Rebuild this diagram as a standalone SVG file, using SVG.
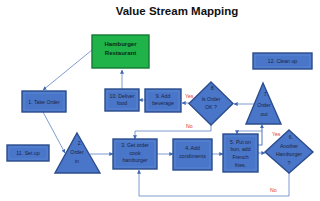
<svg xmlns="http://www.w3.org/2000/svg" width="320" height="201" viewBox="0 0 320 201">
<defs>
<style>
.title{font-family:"Liberation Sans",Arial,sans-serif;font-weight:bold;font-size:11.5px;fill:#111}
.b{fill:#4a76c9;stroke:#2c4c8c;stroke-width:1.4}
.bi{fill:none;stroke:#6a92dc;stroke-width:0.5}
.g{fill:#1fb34a;stroke:#137a32;stroke-width:1.4}
.t{font-family:"Liberation Sans",Arial,sans-serif;font-size:5.2px;fill:#1b2440;text-anchor:middle}
.tg{font-family:"Liberation Sans",Arial,sans-serif;font-size:6px;font-weight:bold;fill:#0d2a14;text-anchor:middle}
.r{font-family:"Liberation Sans",Arial,sans-serif;font-size:5.2px;fill:#e03a3a}
.c{fill:none;stroke:#5f82c4;stroke-width:0.8}
</style>
<marker id="a" viewBox="0 0 6 6" refX="5.5" refY="3" markerWidth="4" markerHeight="4" markerUnits="userSpaceOnUse" orient="auto">
<path d="M0,0 L6,3 L0,6 Z" fill="#3f67b5"/>
</marker>
</defs>
<rect width="320" height="201" fill="#fff"/>
<text class="title" x="177" y="15" text-anchor="middle">Value Stream Mapping</text>

<g id="connectors">
<path class="c" d="M92,50 L43,90" marker-end="url(#a)"/>
<path class="c" d="M122,89 V70" marker-end="url(#a)"/>
<path class="c" d="M145,100 H139" marker-end="url(#a)"/>
<path class="c" d="M189,103 H182" marker-end="url(#a)"/>
<path class="c" d="M255,104 H234" marker-end="url(#a)"/>
<path class="c" d="M211,125 V131 H135 V139" marker-end="url(#a)"/>
<path class="c" d="M43,112 L65,153" marker-end="url(#a)"/>
<path class="c" d="M90,154 H113" marker-end="url(#a)"/>
<path class="c" d="M157,154 H173" marker-end="url(#a)"/>
<path class="c" d="M212,154 H223" marker-end="url(#a)"/>
<path class="c" d="M258,153 H265" marker-end="url(#a)"/>
<path class="c" d="M258,145 H262 V124.5" marker-end="url(#a)" style="stroke-width:1.1"/>
<path class="c" d="M262,131 H237 V134" marker-end="url(#a)"/>
<path class="c" d="M289,173 V196 H139 V170" marker-end="url(#a)"/>
<text class="r" x="185" y="98">Yes</text>
<text class="r" x="186" y="128">No</text>
<text class="r" x="272" y="136">Yes</text>
<text class="r" x="270" y="192">No</text>
</g>

<g id="n-restaurant">
<rect class="g" x="92" y="35" width="57" height="33"/>
<text class="tg" x="120.5" y="46">Hamburger</text>
<text class="tg" x="120.5" y="55">Restaurant</text>
</g>
<g id="n12">
<rect class="b" x="253" y="53" width="59" height="16"/>
<rect class="bi" x="255" y="55" width="55" height="12"/>
<text class="t" x="282.5" y="62.8">12. Clean up</text>
</g>
<g id="n1">
<rect class="b" x="22" y="91" width="44" height="21"/>
<rect class="bi" x="24" y="93" width="40" height="17"/>
<text class="t" x="44" y="103.5">1. Take Order</text>
</g>
<g id="n10">
<rect class="b" x="105" y="89" width="34" height="22"/>
<rect class="bi" x="107" y="91" width="30" height="18"/>
<text class="t" x="122" y="97.5">10. Deliver</text>
<text class="t" x="122" y="105">food</text>
</g>
<g id="n9">
<rect class="b" x="145" y="89" width="36" height="23"/>
<rect class="bi" x="147" y="91" width="32" height="19"/>
<text class="t" x="163" y="97.5">9. Add</text>
<text class="t" x="163" y="105">beverage</text>
</g>
<g id="n8">
<polygon class="b" points="211,82 233,103.5 211,125 189,103.5"/>
<text class="t" x="213" y="90">8.</text>
<text class="t" x="211" y="101">Is Order</text>
<text class="t" x="211" y="109">OK ?</text>
</g>
<g id="n7">
<polygon class="b" points="263,83 281,124 246,124"/>
<text class="t" x="266" y="96">7.</text>
<text class="t" x="264" y="107">Order</text>
<text class="t" x="264" y="116">out</text>
</g>
<g id="n11">
<rect class="b" x="7" y="145" width="42" height="16"/>
<rect class="bi" x="9" y="147" width="38" height="12"/>
<text class="t" x="28" y="154.8">11. Set up</text>
</g>
<g id="n2">
<polygon class="b" points="77,133 100,173 55,173"/>
<text class="t" x="80" y="145">2.</text>
<text class="t" x="77" y="154">Order</text>
<text class="t" x="77" y="163">in</text>
</g>
<g id="n3">
<rect class="b" x="113" y="139" width="44" height="30"/>
<rect class="bi" x="115" y="141" width="40" height="26"/>
<text class="t" x="135" y="147">3. Get order</text>
<text class="t" x="135" y="154.5">cook</text>
<text class="t" x="135" y="162">hamburger</text>
</g>
<g id="n4">
<rect class="b" x="173" y="139" width="39" height="31"/>
<rect class="bi" x="175" y="141" width="35" height="27"/>
<text class="t" x="192.5" y="150">4. Add</text>
<text class="t" x="192.5" y="157.5">condiments</text>
</g>
<g id="n5">
<rect class="b" x="223" y="134" width="35" height="38"/>
<rect class="bi" x="225" y="136" width="31" height="34"/>
<text class="t" x="240.5" y="144">5. Put on</text>
<text class="t" x="240.5" y="151">bun, add</text>
<text class="t" x="240.5" y="159">French</text>
<text class="t" x="240.5" y="167">fries.</text>
</g>
<g id="n6">
<polygon class="b" points="289,130 313,152 289,173 265,152"/>
<text class="t" x="291" y="139">6.</text>
<text class="t" x="289" y="148">Another</text>
<text class="t" x="289" y="156">Hamburger</text>
<text class="t" x="289" y="165">?</text>
</g>
</svg>
